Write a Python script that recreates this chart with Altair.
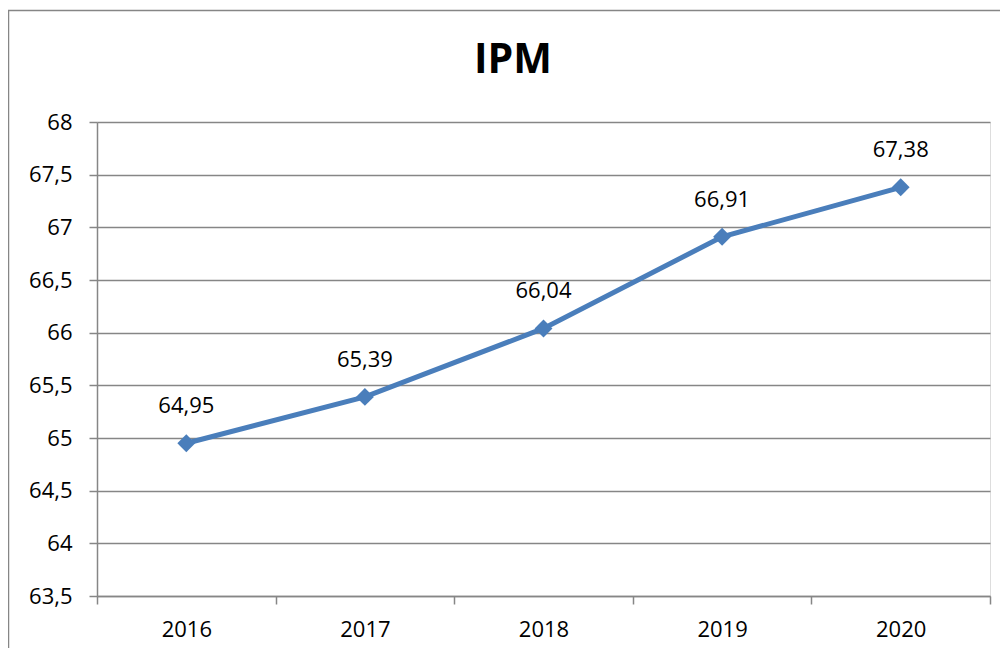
import altair as alt
import pandas as pd

years = ["2016", "2017", "2018", "2019", "2020"]
ipm = [64.95, 65.39, 66.04, 66.91, 67.38]
labels = ["64,95", "65,39", "66,04", "66,91", "67,38"]
y_ticks = [63.5, 64, 64.5, 65, 65.5, 66, 66.5, 67, 67.5, 68]
title_text = ["IPM"]

df = pd.DataFrame({"year": years, "ipm": ipm, "label": labels})

FONT = "Open Sans"
GRID = "#868686"
BLUE = "#4a7ebb"

x_enc = alt.X(
    "year:N",
    sort=years,
    scale=alt.Scale(type="band", paddingInner=0, paddingOuter=0),
    axis=alt.Axis(
        title=None, labelAngle=0, tickBand="extent", ticks=True, tickSize=8,
        tickColor=GRID, domainColor=GRID, labelFontSize=22, labelFont=FONT,
        labelColor="black", labelPadding=15, grid=False, domainWidth=1.5, tickWidth=1.5,
    ),
)
y_enc = alt.Y(
    "ipm:Q",
    scale=alt.Scale(domain=[63.5, 68], nice=False, zero=False),
    axis=alt.Axis(
        title=None, values=y_ticks, tickSize=8, tickColor=GRID, domainColor=GRID,
        gridColor=GRID, gridWidth=1.5, grid=True, labelFontSize=22, labelFont=FONT,
        labelColor="black", labelPadding=17, domainWidth=1.5, tickWidth=1.5,
        labelExpr="replace(toString(datum.value), '.', ',')",
    ),
)

base = alt.Chart(df)
line = base.mark_line(color=BLUE, strokeWidth=5).encode(x=x_enc, y=y_enc)
pts = base.mark_point(shape="diamond", filled=True, color=BLUE, size=320, opacity=1).encode(x=x_enc, y=y_enc)
txt = base.mark_text(fontSize=22, font=FONT, color="black", dy=-37, baseline="middle").encode(
    x=x_enc, y=y_enc, text="label:N"
)

one = pd.DataFrame({"a": [0]})
left_border = alt.Chart(one).mark_rule(color=GRID, strokeWidth=1.5).encode(
    x=alt.value(-88.5), y=alt.value(-112), y2=alt.value(530)
)
top_border = alt.Chart(one).mark_rule(color=GRID, strokeWidth=1.5).encode(
    x=alt.value(-89), x2=alt.value(903), y=alt.value(-111.5)
)
title = alt.Chart(pd.DataFrame({"t": title_text})).mark_text(
    font=FONT, fontSize=41, fontWeight="bold", color="black", baseline="middle", align="center"
).encode(x=alt.value(416), y=alt.value(-61), text="t:N")

chart = (
    alt.layer(left_border, top_border, line, pts, txt, title)
    .properties(
        width=893,
        height=474,
        autosize=alt.AutoSizeParams(type="none"),
        padding={"left": 89, "top": 114, "right": 10, "bottom": 52},
    )
    .configure_view(stroke=None)
    .configure(background="white")
)

chart.save("out.html", embed_options={"renderer": "svg", "actions": False})
